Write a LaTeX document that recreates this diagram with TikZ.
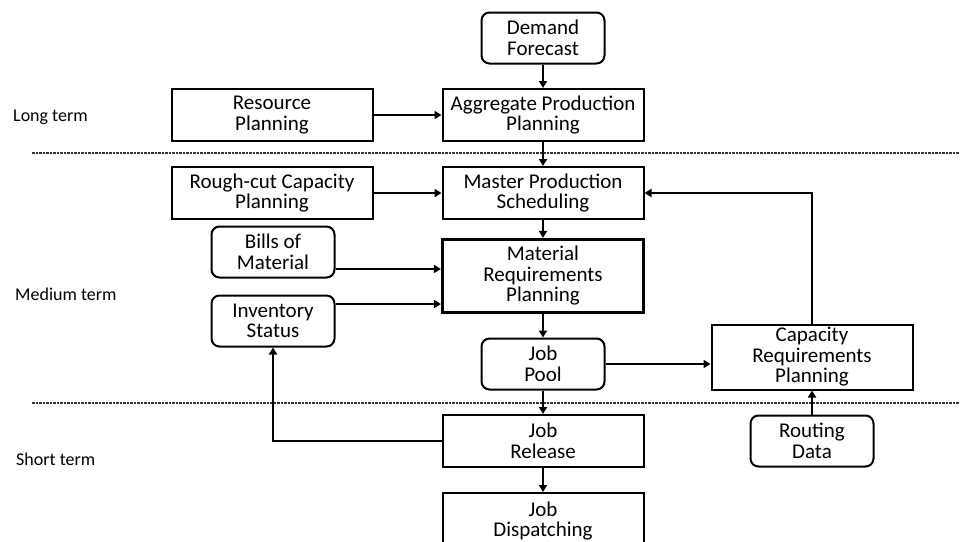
\documentclass[tikz,border=0pt]{standalone}
\usepackage{fontspec}
\setmainfont{Carlito}
\usetikzlibrary{arrows.meta}
\begin{document}
\begin{tikzpicture}[x=1pt,y=-1pt,
  box/.style={draw, line width=2pt, align=center, inner sep=0pt,
    font=\fontsize{21}{20.5}\selectfont},
  sq/.style={box, minimum width=201pt, minimum height=52pt},
  rbox/.style={box, rounded corners=8pt, minimum width=123pt, minimum height=51pt},
  arr/.style={line width=1.8pt, -{Triangle[length=7pt,width=8pt]}},
  sep/.style={dash pattern=on 2.5pt off 1pt, line width=1.3pt, black!80},
  term/.style={anchor=west, inner sep=0pt, font=\fontsize{18}{20}\selectfont}]
\useasboundingbox (0,0) rectangle (960,541);
\clip (0,0) rectangle (960,541);

% planning horizons
\draw[sep] (32,153) -- (960,153);
\draw[sep] (32,403) -- (960,403);
\node[term] (lt) at (13,117) {Long term};
\node[term] (mt) at (15,294) {Medium term};
\node[term] (st) at (16,459) {Short term};

% planning modules and data
\node[rbox] (df)   at (543,38)  {Demand\\Forecast};
\node[sq]   (app)  at (543,115) {Aggregate Production\\Planning};
\node[sq]   (rp)   at (272,115) {Resource\\Planning};
\node[sq]   (rcc)  at (272,193) {Rough-cut Capacity\\Planning};
\node[sq]   (mps)  at (543,193) {Master Production\\Scheduling};
\node[rbox] (bom)  at (273,252) {Bills of\\Material};
\node[rbox] (inv)  at (273,321) {Inventory\\Status};
\node[sq, minimum height=73pt, line width=3.2pt] (mrp) at (543,276)
  {Material\\Requirements\\Planning};
\node[rbox] (pool) at (543,364) {Job\\Pool};
\node[sq, minimum height=65pt] (crp) at (812,357) {Capacity\\Requirements\\Planning};
\node[rbox] (rd)   at (812,441) {Routing\\Data};
\node[sq]   (rel)  at (543,441) {Job\\Release};
\node[sq, minimum height=56pt] (disp) at (543,521) {Job\\Dispatching};

% flows
\draw[arr] (df) -- (app);
\draw[arr] (rp) -- (app);
\draw[arr] (app) -- (mps);
\draw[arr] (rcc) -- (mps);
\draw[arr] (mps) -- (mrp);
\draw[arr] ([yshift=7pt]mrp.west -| bom.east) -- ([yshift=7pt]mrp.west);
\draw[arr] ([yshift=-28pt]mrp.west -| inv.east) -- ([yshift=-28pt]mrp.west);
\draw[arr] (mrp) -- (pool);
\draw[arr] (pool.east) -- (pool.east -| crp.west);
\draw[arr] (crp.north) |- (mps.east);
\draw[arr] (rd) -- (crp);
\draw[arr] (pool) -- (rel);
\draw[arr] (rel.west) -| (inv.south);
\draw[arr] (rel) -- (disp);
\end{tikzpicture}
\end{document}
